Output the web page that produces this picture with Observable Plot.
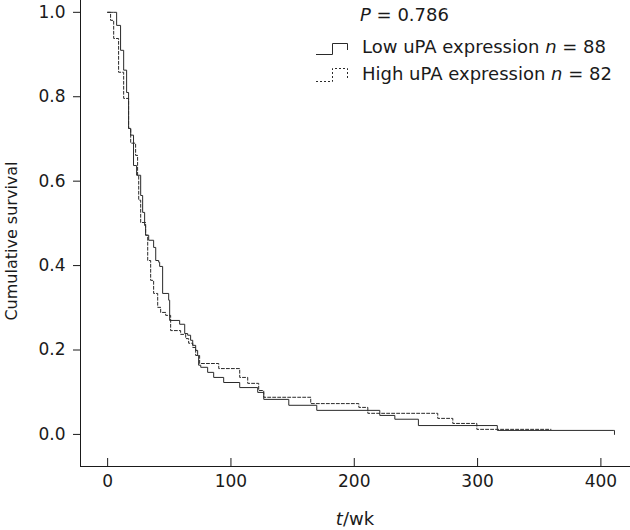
<!DOCTYPE html>
<html>
<head>
<meta charset="utf-8">
<script src="https://cdn.jsdelivr.net/npm/d3@7"></script>
<script src="https://cdn.jsdelivr.net/npm/@observablehq/plot@0.6"></script>
<style>
  html, body { margin: 0; padding: 0; background: #fff; }
  #chart svg { display: block; }
</style>
</head>
<body>
<div id="chart"></div>
<script>
// Low uPA expression (n = 88): step times (weeks) and survival after each step
const lowTime = [0, 4.9, 7.3, 10.5, 13, 15.4, 17, 18.7, 21, 23.5, 26.8, 28.4, 30, 30.8, 33.3, 37.3, 39, 41.4, 42.2, 44.6, 49.5, 50.3, 58.4, 62.5, 64.9, 67.3, 69, 71.4, 73, 73.8, 75.5, 81.1, 86, 94.1, 107.1, 121.7, 126.6, 146.9, 169.6, 220.7, 232.9, 252, 316, 410.5, 411];
const lowSurv = [1.0, 1.0, 0.969, 0.91, 0.863, 0.81, 0.725, 0.709, 0.637, 0.614, 0.566, 0.526, 0.495, 0.472, 0.46, 0.443, 0.412, 0.408, 0.398, 0.334, 0.318, 0.27, 0.261, 0.239, 0.235, 0.223, 0.211, 0.199, 0.187, 0.164, 0.159, 0.147, 0.135, 0.123, 0.111, 0.0995, 0.083, 0.069, 0.057, 0.045, 0.036, 0.021, 0.0095, 0.0095, 0.0];

// High uPA expression (n = 82)
const highTime = [0, 2.4, 4.9, 8.9, 13, 17, 18.7, 22.7, 24.3, 25.2, 26.8, 30.8, 32.5, 34.9, 37.3, 40.6, 43, 47.1, 51.1, 59.2, 63.3, 65.7, 69, 71.4, 74.6, 90.1, 107.1, 113.6, 122.5, 126.6, 164.7, 203.7, 211, 267.7, 279.9, 299.4, 359.5];
const highSurv = [1.0, 0.981, 0.938, 0.858, 0.796, 0.725, 0.69, 0.661, 0.614, 0.555, 0.502, 0.472, 0.412, 0.365, 0.334, 0.301, 0.289, 0.282, 0.246, 0.237, 0.227, 0.216, 0.206, 0.187, 0.168, 0.156, 0.135, 0.121, 0.104, 0.088, 0.073, 0.064, 0.05, 0.038, 0.026, 0.012, 0.012];

const xTicks = [0, 100, 200, 300, 400];
const yTicks = [0, 0.2, 0.4, 0.6, 0.8, 1.0];
const xDomain = [-22, 424];
const yDomain = [-0.076, 1.028];

const seriesNames = ["Low uPA expression", "High uPA expression"];
const seriesN = [88, 82];
const pValue = "0.786";

const low = lowTime.map((t, i) => ({t, s: lowSurv[i]}));
const high = highTime.map((t, i) => ({t, s: highSurv[i]}));

const W = 630, H = 530, mL = 80, mB = 64;
const ink = "#1a1a1a";
const lineColor = "#2a2a2a";
const tickLen = (yDomain[1] - yDomain[0]) * 8 / (H - mB);

const chart = Plot.plot({
  width: W, height: H,
  marginLeft: mL, marginRight: 0, marginTop: 0, marginBottom: mB,
  x: {domain: xDomain},
  y: {domain: yDomain},
  style: {fontFamily: "DejaVu Sans", fontSize: "17px", color: ink, background: "#fff"},
  marks: [
    Plot.axisY(yTicks, {tickSize: 7, tickPadding: 8, tickFormat: d3.format(".1f"), label: null, fontSize: 17, stroke: ink}),
    Plot.axisX(xTicks, {tickSize: 0, tickPadding: 8, tickFormat: d3.format("d"), label: null, fontSize: 17}),
    Plot.ruleX(xTicks, {y1: yDomain[0], y2: yDomain[0] + tickLen, stroke: ink}),
    Plot.ruleX([xDomain[0]], {stroke: ink}),
    Plot.ruleY([yDomain[0]], {stroke: ink}),
    Plot.line(high, {x: "t", y: "s", curve: "step-after", stroke: lineColor, strokeWidth: 1, strokeDasharray: "3,2"}),
    Plot.line(low, {x: "t", y: "s", curve: "step-after", stroke: lineColor, strokeWidth: 1})
  ]
});

document.getElementById("chart").appendChild(chart);

const svg = d3.select(chart);

function richText(g, x, y, parts, opts = {}) {
  const t = g.append("text")
    .attr("x", x).attr("y", y)
    .attr("fill", ink)
    .attr("font-family", "DejaVu Sans")
    .attr("font-size", opts.size || 17)
    .attr("dominant-baseline", "middle")
    .attr("text-anchor", opts.anchor || "start");
  if (opts.transform) t.attr("transform", opts.transform);
  parts.forEach(([s, italic]) => {
    const ts = t.append("tspan").text(s);
    if (italic) ts.attr("font-style", "italic");
  });
  return t;
}

const lg = svg.append("g");
richText(lg, 360, 16, [["P", true], [" = " + pValue, false]], {size: 18});
richText(lg, 362, 48, [[seriesNames[0] + " ", false], ["n", true], [" = " + seriesN[0], false]], {size: 18});
richText(lg, 362, 75, [[seriesNames[1] + " ", false], ["n", true], [" = " + seriesN[1], false]], {size: 18});

lg.append("path").attr("d", "M316,54.5H332.5V43.5H347.5V50").attr("fill", "none").attr("stroke", lineColor);
lg.append("path").attr("d", "M316,81.5H332.5V68.5H347.5V80").attr("fill", "none").attr("stroke", lineColor).attr("stroke-dasharray", "2,2");

// axis titles
richText(svg, 355, 520, [["t", true], ["/wk", false]], {anchor: "middle", size: 18});
richText(svg, 0, 0, [["Cumulative survival", false]], {anchor: "middle", size: 16, transform: "translate(12,241) rotate(-90)"});
</script>
</body>
</html>
